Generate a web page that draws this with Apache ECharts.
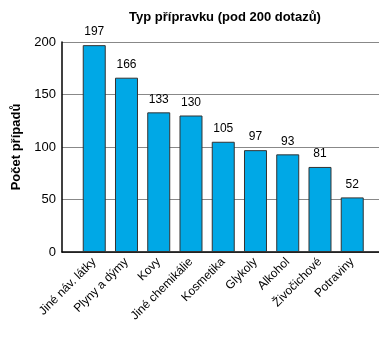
<!DOCTYPE html>
<html><head><meta charset="utf-8">
<script src="https://cdn.jsdelivr.net/npm/echarts@6/dist/echarts.min.js"></script>
<style>html,body{margin:0;padding:0;background:#fff}#c{width:379px;height:354px}</style>
</head><body><div id="c"></div>
<script>
var categories = ['Jiné náv. látky','Plyny a dýmy','Kovy','Jiné chemikálie','Kosmetika','Glykoly','Alkohol','Živočichové','Potraviny'];
var values = [197,166,133,130,105,97,93,81,52];
var yTicks = [0,50,100,150,200];
var titleText = 'Typ přípravku (pod 200 dotazů)';
var yName = 'Počet případů';

var font = 'Liberation Sans, Arial, Helvetica, sans-serif';
var chart = echarts.init(document.getElementById('c'));
chart.setOption({
  animation:false,
  title:{text:titleText,left:220,top:6,textAlign:'center',textStyle:{fontFamily:font,fontSize:13,fontWeight:'bold',color:'#000'}},
  grid:{left:62,right:0,top:42,bottom:102},
  xAxis:{type:'value',min:-1,max:8.83,interval:1,
    axisLine:{show:true,onZero:false,lineStyle:{color:'#000',width:1.5}},
    axisTick:{show:false},splitLine:{show:false},
    axisLabel:{rotate:45,fontFamily:font,fontSize:12,color:'#000',margin:8,showMaxLabel:false,
      formatter:function(v){return (v>=0&&v<categories.length&&v===Math.round(v))?categories[v]:'';}}},
  yAxis:{type:'value',min:yTicks[0],max:yTicks[yTicks.length-1],interval:50,
    name:yName,nameLocation:'middle',nameGap:38,nameTextStyle:{fontFamily:font,fontSize:13,fontWeight:'bold',color:'#000'},
    axisLine:{show:true,onZero:false,lineStyle:{color:'#000',width:1.5}},axisTick:{show:false},
    splitLine:{show:true,lineStyle:{color:'#888',width:1}},
    axisLabel:{fontFamily:font,fontSize:13,color:'#000',margin:6}},
  series:[{type:'bar',barWidth:23,
    data:values.map(function(v,i){return [i,v];}),
    itemStyle:{color:'#00a8e6',borderColor:'#333',borderWidth:1},
    label:{show:true,position:'top',distance:7,fontFamily:font,fontSize:12,color:'#000',
      formatter:function(p){return p.value[1];}}}]
});
</script></body></html>
